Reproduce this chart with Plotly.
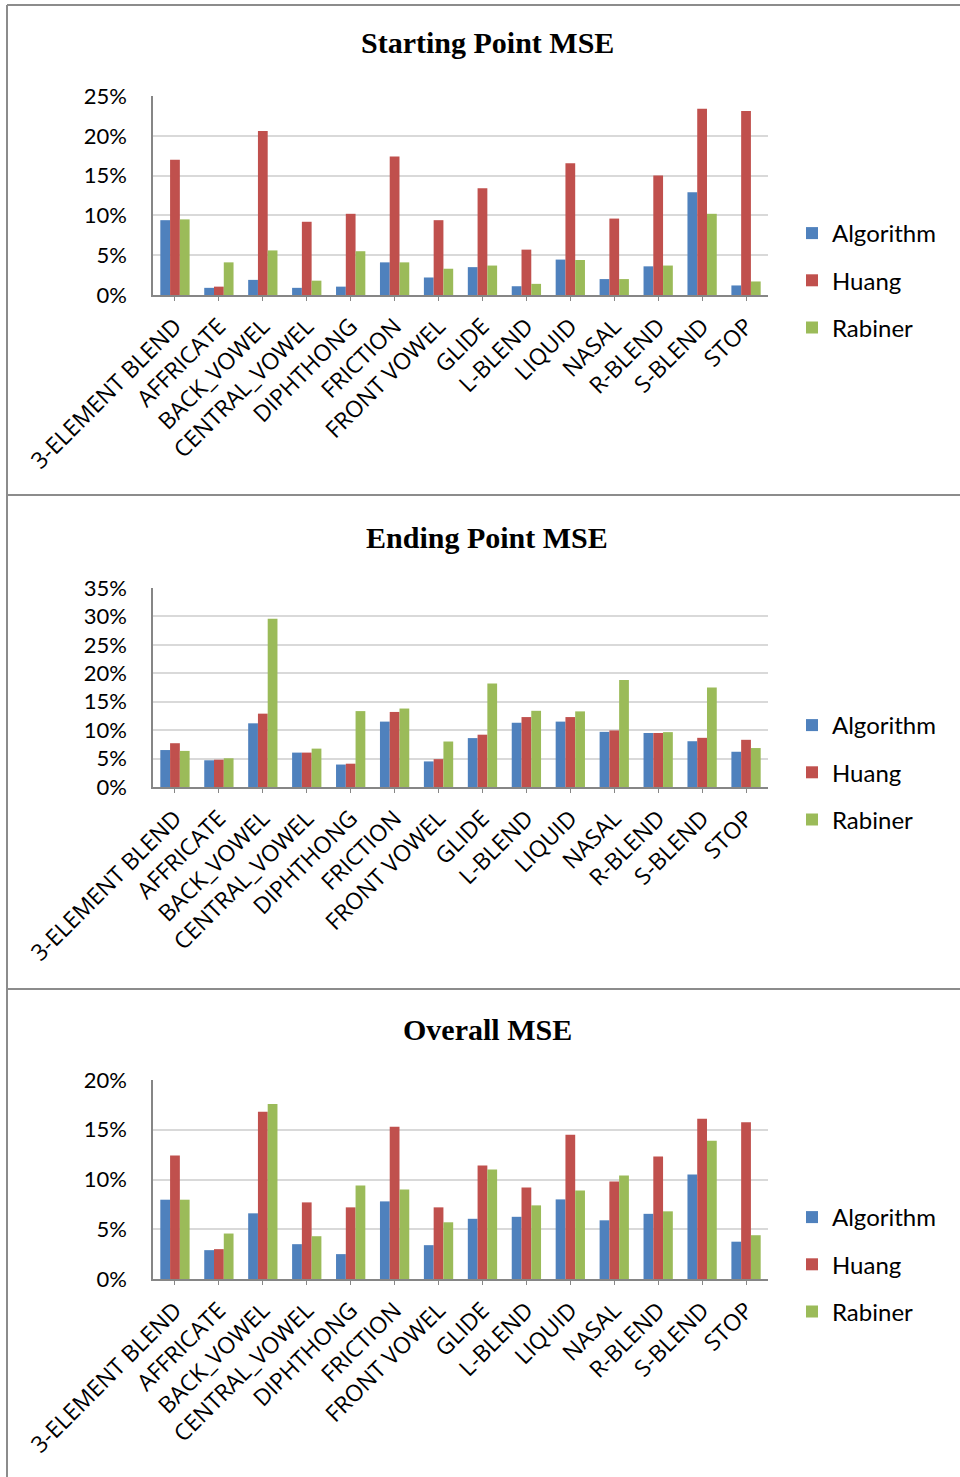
import plotly.graph_objects as go

W, H = 960, 1477

categories = ["3-ELEMENT BLEND", "AFFRICATE", "BACK_VOWEL", "CENTRAL_VOWEL", "DIPHTHONG",
              "FRICTION", "FRONT VOWEL", "GLIDE", "L-BLEND", "LIQUID", "NASAL",
              "R-BLEND", "S-BLEND", "STOP"]
series_names = ["Algorithm", "Huang", "Rabiner"]

start_algorithm = [0.094, 0.009, 0.019, 0.009, 0.0105, 0.041, 0.022, 0.035, 0.011, 0.0445, 0.020, 0.036, 0.129, 0.012]
start_huang     = [0.170, 0.0105, 0.206, 0.092, 0.102, 0.174, 0.094, 0.134, 0.057, 0.1655, 0.096, 0.150, 0.234, 0.231]
start_rabiner   = [0.095, 0.041, 0.056, 0.018, 0.055, 0.041, 0.033, 0.037, 0.014, 0.044, 0.020, 0.037, 0.102, 0.017]

end_algorithm = [0.065, 0.047, 0.112, 0.0605, 0.0395, 0.115, 0.045, 0.086, 0.113, 0.115, 0.097, 0.095, 0.0805, 0.062]
end_huang     = [0.077, 0.048, 0.129, 0.0605, 0.041, 0.132, 0.049, 0.092, 0.123, 0.123, 0.0995, 0.095, 0.0865, 0.083]
end_rabiner   = [0.0635, 0.0505, 0.296, 0.0675, 0.1335, 0.138, 0.080, 0.182, 0.134, 0.133, 0.188, 0.0965, 0.175, 0.0685]

overall_algorithm = [0.0797, 0.029, 0.066, 0.035, 0.025, 0.078, 0.034, 0.0605, 0.0625, 0.080, 0.059, 0.0655, 0.105, 0.0375]
overall_huang     = [0.124, 0.030, 0.168, 0.077, 0.072, 0.153, 0.072, 0.114, 0.092, 0.145, 0.098, 0.123, 0.161, 0.1575]
overall_rabiner   = [0.0797, 0.0457, 0.176, 0.043, 0.094, 0.090, 0.057, 0.110, 0.074, 0.089, 0.104, 0.068, 0.139, 0.044]

panel_titles = ["Starting Point MSE", "Ending Point MSE", "Overall MSE"]
panel_series = [
    [start_algorithm, start_huang, start_rabiner],
    [end_algorithm, end_huang, end_rabiner],
    [overall_algorithm, overall_huang, overall_rabiner],
]
panel_ymax = [0.25, 0.35, 0.20]

colors = ["#4f81bd", "#c0504d", "#9bbb59"]

# pixel layout of each panel
panel_top = [5, 495, 989]
title_y = [43, 537, 1029]
plot_top = [96, 588, 1080]
plot_bottom = [295, 787, 1279]
x_left, x_right = 153, 768

def py(v):
    return 1 - v / H

fig = go.Figure()

legend_names = ["legend", "legend2", "legend3"]
for p in range(3):
    sfx = "" if p == 0 else str(p + 1)
    for s in range(3):
        fig.add_trace(go.Bar(
            x=categories, y=panel_series[p][s], name=series_names[s],
            marker=dict(color=colors[s], line=dict(width=0)),
            xaxis="x" + sfx, yaxis="y" + sfx,
            legend=legend_names[p], legendgroup=f"{p}-{s}",
        ))

    fig.layout["xaxis" + sfx] = dict(
        domain=[x_left / W, x_right / W], anchor="y" + sfx,
        type="category", tickangle=-45, showgrid=False, automargin=False,
        showline=True, linecolor="#868686", linewidth=1.5,
        ticks="outside", ticklen=4, tickcolor="#868686",
        tickfont=dict(family="Open Sans", size=23, color="#000"),
        ticklabelstandoff=3, fixedrange=True,
    )
    fig.layout["yaxis" + sfx] = dict(
        domain=[py(plot_bottom[p]), py(plot_top[p])], anchor="x" + sfx,
        range=[0, panel_ymax[p]], dtick=0.05, tickformat=".0%",
        showgrid=True, gridcolor="#d9d9d9", gridwidth=1.5, automargin=False,
        showline=True, linecolor="#868686", linewidth=1.5,
        zeroline=False, ticks="",
        tickfont=dict(family="Lato", size=22, color="#000"),
        ticklabelstandoff=20, fixedrange=True,
    )
    fig.layout[legend_names[p]] = dict(
        x=792 / W, xanchor="left",
        y=py((plot_top[p] + plot_bottom[p]) / 2 + 85), yanchor="middle",
        font=dict(family="Lato", size=24, color="#000"),
        tracegroupgap=13, bgcolor="rgba(0,0,0,0)",
    )
    fig.add_annotation(
        text=f"<b>{panel_titles[p]}</b>", x=487 / W, y=py(title_y[p]),
        xref="paper", yref="paper", showarrow=False, xanchor="center", yanchor="middle",
        font=dict(family="Liberation Serif", size=30, color="#000"),
    )
    # panel frame: top rule
    fig.add_shape(type="line", xref="paper", yref="paper",
                  x0=7 / W, x1=1, y0=py(panel_top[p]), y1=py(panel_top[p]),
                  line=dict(color="#8c8c8c", width=2))

# panel frame: left rule
fig.add_shape(type="line", xref="paper", yref="paper",
              x0=7 / W, x1=7 / W, y0=0, y1=py(panel_top[0]),
              line=dict(color="#8c8c8c", width=2))

fig.update_layout(
    template="none",
    width=W, height=H, margin=dict(l=0, r=0, t=0, b=0, autoexpand=False),
    paper_bgcolor="white", plot_bgcolor="white",
    barmode="group", bargap=0.333, bargroupgap=0,
    showlegend=True,
)

fig.write_html("out.html")
